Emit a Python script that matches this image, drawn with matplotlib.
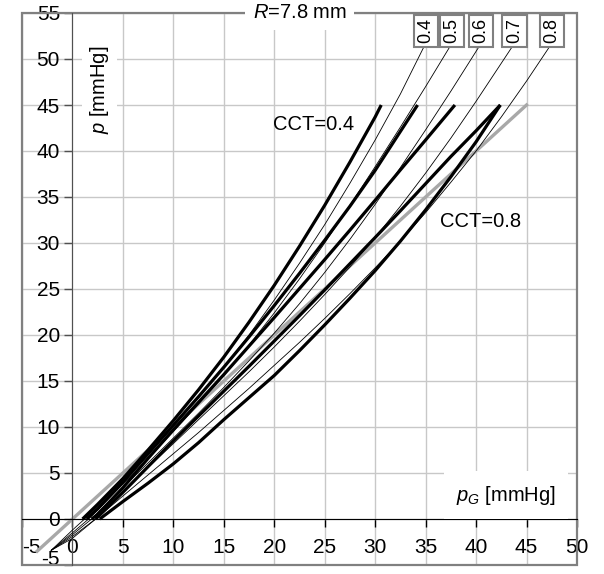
import matplotlib.pyplot as plt
from matplotlib.patches import Rectangle

# Goldmann reading p_G vs true pressure p, R = 7.8 mm
identity_pg = [-3.5, 45.0]
identity_p = [-3.5, 45.0]

# thick curves (model), one per CCT [mm]
thick04_pg = [1.0, 2.5, 5.0, 7.5, 10.0, 12.5, 15.0, 17.5, 20.0, 22.5, 25.0, 27.5, 30.0, 30.6]
thick04_p = [0.0, 1.6, 4.4, 7.5, 10.7, 14.05, 17.6, 21.4, 25.4, 29.65, 34.1, 38.8, 43.7, 45.0]
thick05_pg = [1.4, 2.5, 5.0, 7.5, 10.0, 12.5, 15.0, 17.5, 20.0, 22.5, 25.0, 27.5, 30.0, 34.2]
thick05_p = [0.0, 1.1, 4.0, 7.1, 10.2, 13.3, 16.5, 19.8, 23.2, 26.7, 30.3, 34.0, 37.9, 45.0]
thick06_pg = [1.9, 2.5, 5.0, 7.5, 10.0, 12.5, 15.0, 17.5, 20.0, 22.5, 25.0, 27.5, 30.0, 32.5, 35.0, 37.9]
thick06_p = [0.0, 0.5, 3.4, 6.6, 9.7, 12.7, 15.7, 18.8, 21.9, 25.05, 28.2, 31.4, 34.65, 37.95, 41.2, 45.0]
thick07_pg = [2.3, 5.0, 7.5, 10.0, 12.5, 15.0, 17.5, 20.0, 22.5, 25.0, 27.5, 30.0, 32.5, 35.0, 37.5, 40.0, 42.4]
thick07_p = [0.0, 2.9, 5.7, 8.5, 11.2, 13.9, 16.6, 19.35, 22.1, 24.9, 27.75, 30.6, 33.5, 36.45, 39.4, 42.2, 45.0]
thick08_pg = [2.7, 5.0, 7.5, 10.0, 12.5, 15.0, 17.5, 20.0, 22.5, 25.0, 27.5, 30.0, 32.5, 35.0, 37.5, 40.0, 42.4]
thick08_p = [0.0, 1.9, 3.9, 6.0, 8.3, 10.8, 13.2, 15.6, 18.3, 21.1, 24.0, 27.0, 30.2, 33.6, 37.2, 41.0, 45.0]

# thin curves, ending at the CCT boxes
thin04_pg = [-2.1, 0.0, 1.2, 2.5, 5.0, 7.5, 10.0, 12.5, 15.0, 17.5, 20.0, 22.5, 25.0, 27.5, 30.0, 32.5, 35.0]
thin04_p = [-3.4, -1.2, 0.0, 1.4, 4.2, 7.1, 10.1, 13.2, 16.5, 20.0, 23.8, 27.8, 32.0, 36.5, 41.2, 46.2, 51.7]
thin05_pg = [-2.1, 0.0, 1.6, 2.5, 5.0, 7.5, 10.0, 12.5, 15.0, 17.5, 20.0, 22.5, 25.0, 27.5, 30.0, 32.5, 35.0, 37.6]
thin05_p = [-3.4, -1.5, 0.0, 1.0, 3.8, 6.6, 9.5, 12.5, 15.6, 18.9, 22.4, 26.1, 30.0, 34.1, 38.3, 42.6, 47.0, 51.7]
thin06_pg = [-2.1, 0.0, 1.9, 2.5, 5.0, 7.5, 10.0, 12.5, 15.0, 17.5, 20.0, 22.5, 25.0, 27.5, 30.0, 32.5, 35.0, 37.5, 40.5]
thin06_p = [-3.4, -1.7, 0.0, 0.7, 3.4, 6.1, 8.8, 11.5, 14.3, 17.2, 20.2, 23.4, 26.8, 30.4, 34.2, 38.2, 42.3, 46.5, 51.7]
thin07_pg = [-2.1, 0.0, 2.3, 5.0, 7.5, 10.0, 12.5, 15.0, 17.5, 20.0, 22.5, 25.0, 27.5, 30.0, 32.5, 35.0, 37.5, 40.0, 43.8]
thin07_p = [-3.4, -1.9, 0.0, 3.0, 5.6, 8.2, 10.8, 13.4, 16.0, 18.7, 21.5, 24.4, 27.4, 30.6, 34.0, 37.6, 41.4, 45.4, 51.7]
thin08_pg = [-2.1, 0.0, 2.3, 5.0, 7.5, 10.0, 12.5, 15.0, 17.5, 20.0, 22.5, 25.0, 27.5, 30.0, 32.5, 35.0, 37.5, 40.0, 42.5, 45.0, 47.5]
thin08_p = [-3.4, -2.1, 0.0, 2.5, 4.8, 7.1, 9.4, 11.8, 14.2, 16.7, 19.2, 21.8, 24.5, 27.3, 30.2, 33.3, 36.6, 40.0, 43.7, 47.6, 51.7]

cct_labels = ['0.4', '0.5', '0.6', '0.7', '0.8']

x_ticks = list(range(-5, 55, 5))
y_ticks = list(range(-5, 60, 5))


def plot_chart():
    plt.rcParams['font.family'] = ['Liberation Sans', 'DejaVu Sans']
    plt.rcParams['mathtext.fontset'] = 'custom'
    plt.rcParams['mathtext.rm'] = 'Liberation Sans'
    plt.rcParams['mathtext.it'] = 'Liberation Sans:italic'
    plt.rcParams['axes.unicode_minus'] = False

    fig = plt.figure(figsize=(6.04, 5.74), dpi=100)
    ax = fig.add_axes([22 / 604, 9 / 574, 555 / 604, 552 / 574])

    ax.set_xlim(-5, 50)
    ax.set_ylim(-5, 55)
    ax.set_xticks(x_ticks)
    ax.set_yticks(y_ticks)

    ax.grid(True, color='#c8c8c8', lw=1)
    ax.set_axisbelow(True)

    # axes cross at zero, outer frame in grey
    ax.spines['left'].set_position(('data', 0))
    ax.spines['bottom'].set_position(('data', 0))
    ax.spines['left'].set_color('#505050')
    ax.spines['bottom'].set_color('black')
    ax.spines['top'].set_visible(False)
    ax.spines['right'].set_visible(False)
    ax.add_patch(Rectangle((0, 0), 1, 1, transform=ax.transAxes, fill=False,
                           edgecolor='#808080', lw=1.6, clip_on=False, zorder=1))

    ax.tick_params(axis='both', direction='out', length=6, width=1, labelsize=15)
    ax.tick_params(axis='x', pad=8, color='black')
    ax.tick_params(axis='y', pad=3, color='#505050')
    ax.get_xticklabels()[0].set_horizontalalignment('left')
    # lowest y label sits on the bottom frame, keep it inside the figure
    ax.get_yticklabels()[0].set_verticalalignment('baseline')

    ax.plot(identity_pg, identity_p, color='#a8a8a8', lw=2.4, zorder=2)

    thick = [(thick04_pg, thick04_p), (thick05_pg, thick05_p), (thick06_pg, thick06_p),
             (thick07_pg, thick07_p), (thick08_pg, thick08_p)]
    for pg, p in thick:
        ax.plot(pg, p, color='black', lw=2.3, zorder=3, solid_capstyle='butt',
                solid_joinstyle='round')

    thin = [(thin04_pg, thin04_p), (thin05_pg, thin05_p), (thin06_pg, thin06_p),
            (thin07_pg, thin07_p), (thin08_pg, thin08_p)]
    for (pg, p), lbl in zip(thin, cct_labels):
        ax.plot(pg, p, color='black', lw=0.6, zorder=4, clip_on=False)
        ax.text(pg[-1], p[-1], lbl, rotation=90, ha='center', va='bottom',
                fontsize=13, zorder=6,
                bbox=dict(boxstyle='square,pad=0.2', facecolor='white',
                          edgecolor='#808080', lw=1.5))

    ax.text(22.5, 55, r'$R$=7.8 mm', ha='center', va='center', fontsize=14.5, zorder=6,
            bbox=dict(boxstyle='square,pad=0.35', facecolor='white', edgecolor='none'))
    ax.text(2.7, 46.6, r'$p$ [mmHg]', rotation=90, ha='center', va='center', fontsize=14.5,
            zorder=6, bbox=dict(boxstyle='square,pad=0.3', facecolor='white', edgecolor='none'))
    ax.text(43.0, 2.6, r'$p_G$ [mmHg]', ha='center', va='center', fontsize=14.5, zorder=6,
            bbox=dict(boxstyle='square,pad=0.6', facecolor='white', edgecolor='none'))
    ax.text(23.9, 42.9, 'CCT=0.4', ha='center', va='center', fontsize=14.5, zorder=6)
    ax.text(40.4, 32.3, 'CCT=0.8', ha='center', va='center', fontsize=14.5, zorder=6)

    fig.savefig('out.png', dpi=100)


if __name__ == "__main__":
    plot_chart()
